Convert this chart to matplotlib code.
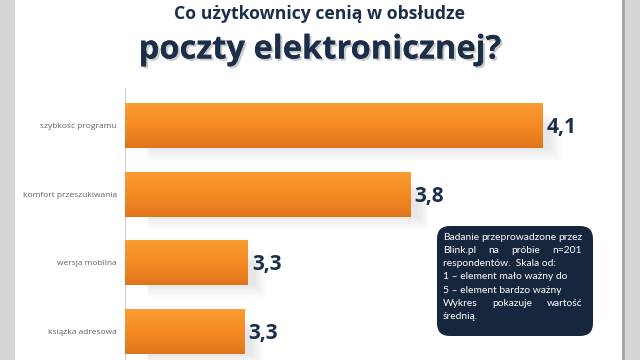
import numpy as np
import matplotlib.pyplot as plt
import matplotlib.patheffects as pe
from matplotlib.patches import FancyBboxPatch, Rectangle
from matplotlib.colors import LinearSegmentedColormap

categories = ['szybkość programu', 'komfort przeszukiwania', 'wersja mobilna', 'książka adresowa']
values = [4.10, 3.76, 3.34, 3.33]
title_small = 'Co użytkownicy cenią w obsłudze'
title_big = 'poczty elektronicznej?'
note_lines = [
    ('Badanie przeprowadzone przez', True),
    ('Blink.pl na próbie n=201', True),
    ('respondentów.  Skala od:', False),
    ('1 – element mało ważny do', False),
    ('5 – element bardzo ważny', False),
    ('Wykres pokazuje wartość', True),
    ('średnią.', False),
]

navy = '#1b2f4b'
orange = '#f68b24'
plt.rcParams['font.family'] = ['Open Sans', 'DejaVu Sans']

fig = plt.figure(figsize=(6.4, 3.6), dpi=100)
fig.patch.set_facecolor('#d6d6d6')
# white slide
fig.add_artist(Rectangle((15 / 640, 0), (622 - 15) / 640, 1, transform=fig.transFigure,
                         facecolor='white', edgecolor='none', zorder=0))
fig.add_artist(Rectangle((622 / 640, 0), 3 / 640, 1, transform=fig.transFigure,
                         facecolor='#a8a8a8', edgecolor='none', zorder=0))

fig.text(0.5, 1 - 14 / 360, title_small, ha='center', va='center', fontsize=12.7,
         fontweight='bold', color=navy)
fig.text(0.5, 1 - 50 / 360, title_big, ha='center', va='center', fontsize=23.5,
         fontweight='bold', color=navy,
         path_effects=[pe.withSimplePatchShadow(offset=(1.5, -1.5), shadow_rgbFace='#999999',
                                                alpha=0.5), pe.Normal()])

ax = fig.add_axes([125 / 640, 0, (622 - 125) / 640, 272 / 360])
ax.set_facecolor('none')
y = np.arange(len(categories))
xmin = 3.023
ax.set_xlim(xmin, 4.305)
ax.set_ylim(3.42, -0.55)

# soft shadows under bars
for yi, v in zip(y, values):
    for k in range(8):
        ax.barh(yi + 0.08 + k * 0.025, v - xmin - 0.04 + k * 0.004, left=xmin + 0.06,
                height=0.5, color='#000000', alpha=0.012, zorder=1, edgecolor='none')

# gradient fill inside bars
grad = np.linspace(0, 1, 50).reshape(-1, 1)
cmap = LinearSegmentedColormap.from_list('o', ['#fb9c35', '#f58b24', '#e0761c'])
bars = ax.barh(y, [v - xmin for v in values], left=xmin, height=0.66,
               color=orange, edgecolor='none', zorder=2)
for b in bars:
    x0, y0 = b.get_x(), b.get_y()
    im = ax.imshow(grad, extent=(x0, x0 + b.get_width(), y0 + b.get_height(), y0),
                   cmap=cmap, aspect='auto', zorder=3)
    im.set_clip_path(b)
ax.set_xlim(xmin, 4.305)
ax.set_ylim(3.42, -0.55)

for yi, v in zip(y, values):
    ax.text(v + 0.01, yi + 0.03, f'{v:.1f}'.replace('.', ','), ha='left', va='center',
            fontsize=15, fontweight='bold', color=navy, zorder=4)

ax.set_yticks(y)
ax.set_yticklabels(categories, fontsize=6, color='#606060')
ax.tick_params(axis='y', length=0, pad=6)
ax.set_xticks([])
for s in ['top', 'right', 'bottom']:
    ax.spines[s].set_visible(False)
ax.spines['left'].set_color('#d0d0d0')
ax.spines['left'].set_linewidth(0.8)

# note box
bx0, by0, bw, bh = 437 / 640, 1 - 336 / 360, 156 / 640, 110 / 360
fig.add_artist(FancyBboxPatch((bx0, by0), bw, bh, boxstyle='round,pad=0,rounding_size=0.02',
                              transform=fig.transFigure, facecolor='#16263d',
                              edgecolor='none', zorder=5, mutation_aspect=640 / 360))
fig.canvas.draw()
renderer = fig.canvas.get_renderer()
tx0, tx1 = 443, 582
ty = 237
fs = 7.4
for line, justify in note_lines:
    words = line.split()
    if not justify or len(words) == 1:
        fig.text(tx0 / 640, 1 - ty / 360, line, fontsize=fs, color='white', va='center',
                 ha='left', zorder=6, family=['Lato', 'DejaVu Sans'])
    else:
        objs = [fig.text(0, 0, w, fontsize=fs, color='white', va='center', zorder=6,
                         family=['Lato', 'DejaVu Sans']) for w in words]
        widths = [o.get_window_extent(renderer).width for o in objs]
        gap = (tx1 - tx0 - sum(widths)) / (len(words) - 1)
        xx = tx0
        for o, w in zip(objs, widths):
            o.set_position((xx / 640, 1 - ty / 360))
            xx += w + gap
    ty += 13.3

fig.savefig('out.png', dpi=100, facecolor=fig.get_facecolor())
